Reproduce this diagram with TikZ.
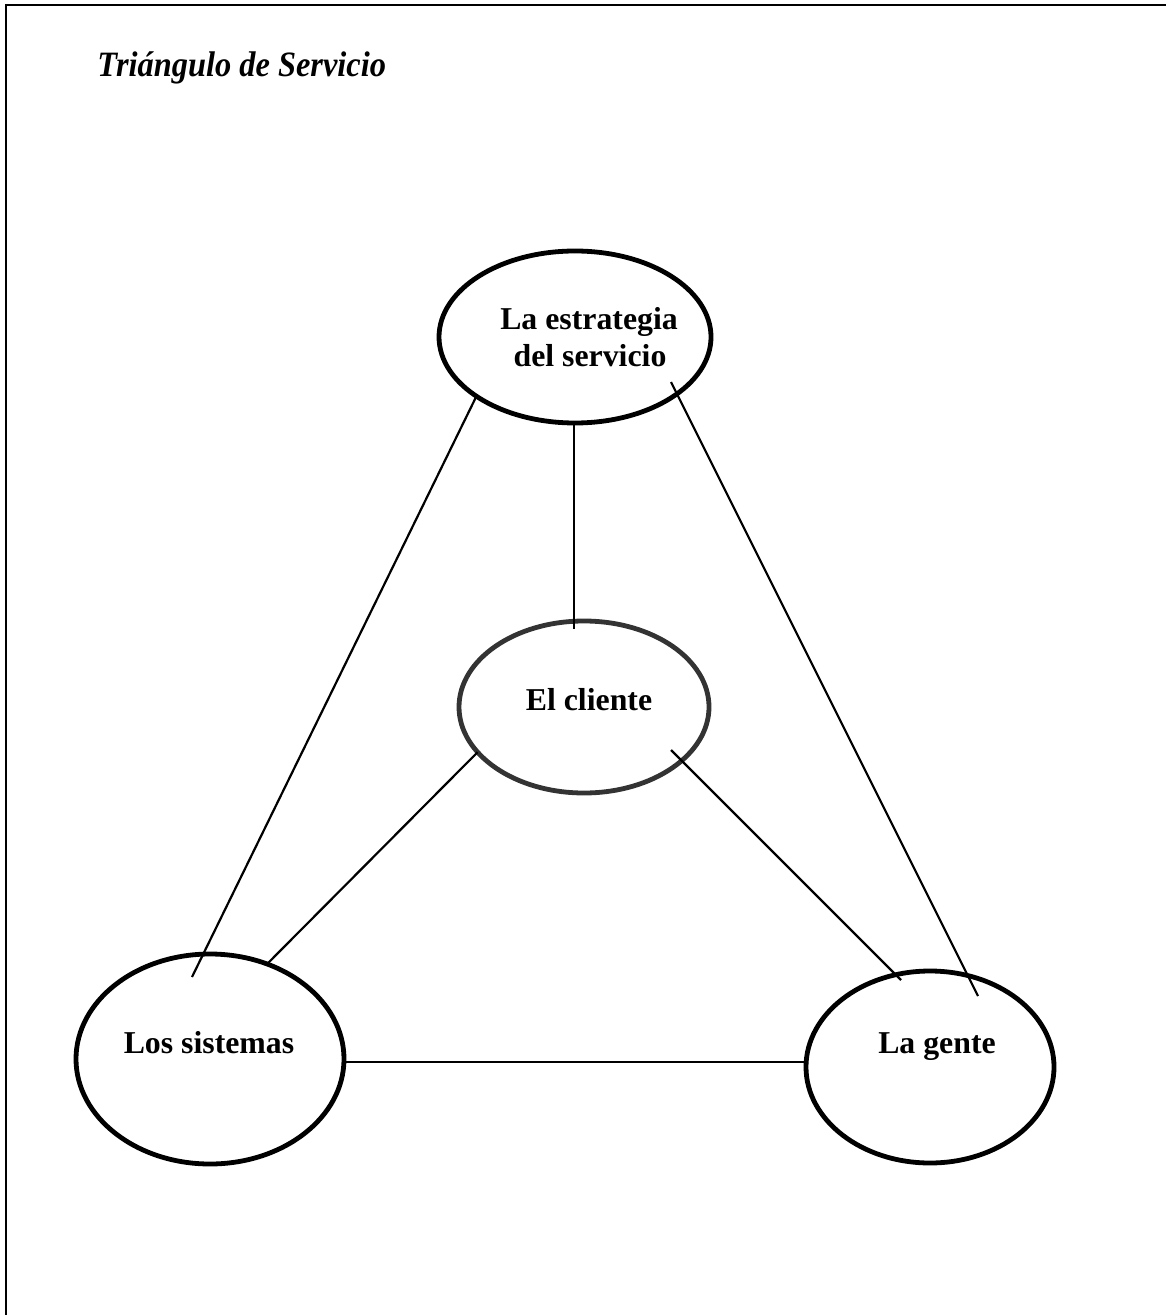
\documentclass[tikz,border=0pt]{standalone}
\usepackage{graphicx}
\usepackage{fontspec}
\setmainfont{Liberation Serif}
\usetikzlibrary{shapes.geometric}
\tikzset{
  oval/.style={draw=black, ellipse, line width=2.4pt, inner sep=0pt, outer sep=0pt, fill=none},
  lbl/.style={font=\bfseries\fontsize{15.9}{19}\selectfont, inner sep=0pt, anchor=base},
  ttl/.style={font=\bfseries\itshape\fontsize{16.2}{19.4}\selectfont, inner sep=0pt, anchor=base west},
  conn/.style={draw=black, line width=1.1pt},
  frame/.style={draw=black, line width=1.3pt}
}
\begin{document}
\begin{tikzpicture}[x=0.5pt,y=-0.5pt]
\useasboundingbox (0,0) rectangle (1166,1315);
% frame (left and top only)
\coordinate (fa) at (6,1315);
\coordinate (fb) at (6,5);
\coordinate (fc) at (1166,5);
\draw[frame] (fa) -- (fb) -- (fc);
% title
\node[ttl] (title) at (97,77) {\scalebox{1}[1.1]{Triángulo de Servicio}};
% ellipses
\node[oval, minimum width=136pt, minimum height=86pt] (strat) at (575,337) {};
\node[oval, draw=black!80, minimum width=125pt, minimum height=86pt] (cliente) at (584,707) {};
\node[oval, minimum width=134pt, minimum height=105pt] (sist) at (210,1059) {};
\node[oval, minimum width=124pt, minimum height=96pt] (gente) at (930,1067) {};
% labels
\node[lbl] (t1) at (589,330) {La estrategia};
\node[lbl] (t2) at (590,367) {del servicio};
\node[lbl] (t3) at (589,710) {El cliente};
\node[lbl] (t4) at (209,1053) {Los sistemas};
\node[lbl] (t5) at (937,1053) {La gente};
% connector end points
\coordinate (s1) at (192,977);
\coordinate (c1) at (574,629);
\coordinate (a3) at (671,382);
\coordinate (g1) at (978,996);
\coordinate (a5) at (671,750);
\coordinate (g2) at (901,980);
\coordinate (hl) at (0,1062);
% connectors
\draw[conn] (strat.211.5) -- (s1);
\draw[conn] (c1 |- strat.south) -- (c1);
\draw[conn] (a3) -- (g1);
\draw[conn] (cliente.203) -- (sist.59.6);
\draw[conn] (a5) -- (g2);
\draw[conn] (sist.east |- hl) -- (gente.west |- hl);
\end{tikzpicture}
\end{document}
